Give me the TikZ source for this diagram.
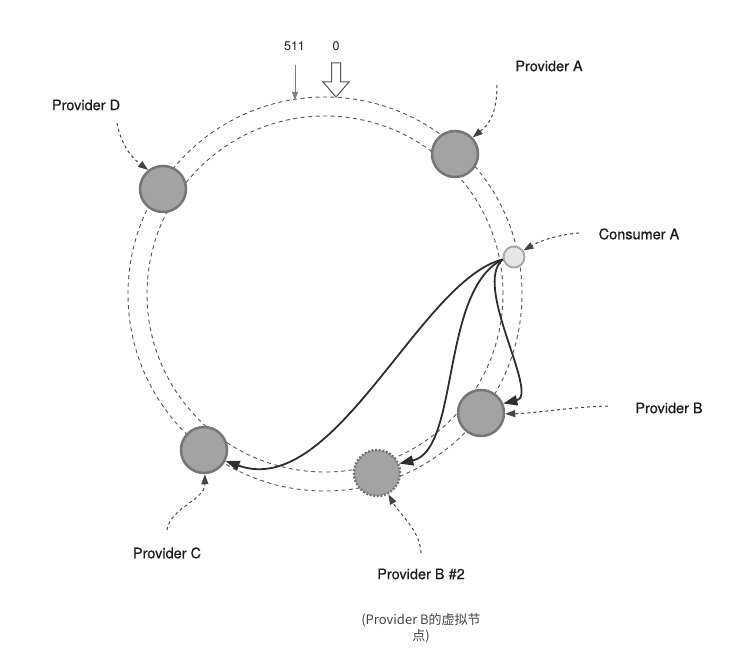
\documentclass[tikz,border=0pt]{standalone}
\usepackage{fontspec}
\setmainfont{TeX Gyre Heros}
\newfontfamily\cjk{Noto Sans CJK SC}
\usetikzlibrary{arrows.meta}
\definecolor{provborder}{HTML}{767676}
\definecolor{provfill}{HTML}{A3A3A3}
\definecolor{consborder}{HTML}{AAAAAA}
\definecolor{consfill}{HTML}{E6E6E6}
\definecolor{labtext}{HTML}{1E1E1E}
\definecolor{ringc}{HTML}{555555}
\definecolor{ptrc}{HTML}{444444}
\definecolor{reqc}{HTML}{2E2E2E}
\definecolor{capc}{HTML}{444444}
\begin{document}
\begin{tikzpicture}[x=1pt,y=-1pt,
  prov/.style={circle,minimum size=46pt,inner sep=0pt,line width=2.5pt,draw=provborder,fill=provfill},
  lab/.style={font=\fontsize{14.5}{16}\selectfont\addfontfeature{FakeBold=0.6},text=labtext},
  ring/.style={draw=ringc,line width=0.9pt,dash pattern=on 4pt off 3.5pt},
  ptr/.style={draw=ptrc,line width=1pt,dash pattern=on 3pt off 3pt,-{Triangle[length=10pt,width=7pt]}},
  req/.style={draw=reqc,line width=1.8pt,-{Triangle[length=14pt,width=10pt]}}
]
\useasboundingbox (0,0) rectangle (754,671);
% rings
\draw[ring] (325,294) circle[radius=197pt];
\draw[ring] (325,294) circle[radius=178pt];
% nodes
\node[prov] (a) at (455,154) {};
\node[prov] (d) at (163,189) {};
\node[prov] (b) at (481,413) {};
\node[prov] (c) at (204,450) {};
\node[prov,dash pattern=on 2pt off 1.6pt] (b2) at (377,473) {};
\node[circle,minimum size=21pt,inner sep=0pt,line width=2pt,draw=consborder,fill=consfill] (cons) at (514,257) {};
% labels
\node[lab] (la) at (549,66) {Provider A};
\node[lab] (ld) at (86,105) {Provider D};
\node[lab] (lcons) at (639,234) {Consumer A};
\node[lab] (lb) at (669,408) {Provider B};
\node[lab] (lb2) at (421,574) {Provider B \#2};
\node[lab] (lc) at (167,553) {Provider C};
\node[font=\fontsize{12.5}{13}\selectfont,text=labtext] (l511) at (294.5,46) {511};
\node[font=\fontsize{12.5}{13}\selectfont,text=labtext] (l0) at (336,46) {0};
\node[font=\cjk\fontsize{13}{16}\selectfont,text=capc,align=center] (cap) at (421,628) {(Provider B的虚拟节\\点)};
% 511 and 0 markers
\coordinate (s511) at (295,65);
\coordinate (e511) at (295,100);
\draw[draw=gray,line width=1pt,-{Triangle[length=8pt,width=6pt]}] (s511) -- (e511);
\draw[draw=ringc,line width=1pt,fill=white] (331.5,63) -- (340.5,63) -- (340.5,82) -- (349,82) -- (336,97) -- (323,82) -- (331.5,82) -- cycle;
% pointers
\coordinate (pa) at (497,85);
\coordinate (pd) at (117,123);
\coordinate (pcons) at (579,233);
\coordinate (pb) at (608,406);
\coordinate (pb2) at (421,553);
\coordinate (pc) at (167,530);
\draw[ptr] (pa) .. controls (497,115) and (488,125) .. (a.43);
\draw[ptr] (pd) .. controls (121,145) and (132,158) .. (d.128);
\draw[ptr] (pcons) .. controls (555,235) and (538,242) .. (cons.35);
\draw[ptr] (pb) .. controls (570,407) and (540,413) .. (b.-2);
\draw[ptr] (pb2) .. controls (420,530) and (400,515) .. (b2.-62);
\draw[ptr] (pc) .. controls (170,508) and (205,500) .. (c.-88);
% requests
\draw[req] (cons.192) .. controls (420,280) and (335,500) .. (c.-27);
\draw[req] (cons.192) .. controls (440,290) and (460,450) .. (b2.23);
\draw[req] (cons.192) .. controls (472,285) and (540,395) .. (b.23);
\end{tikzpicture}
\end{document}
